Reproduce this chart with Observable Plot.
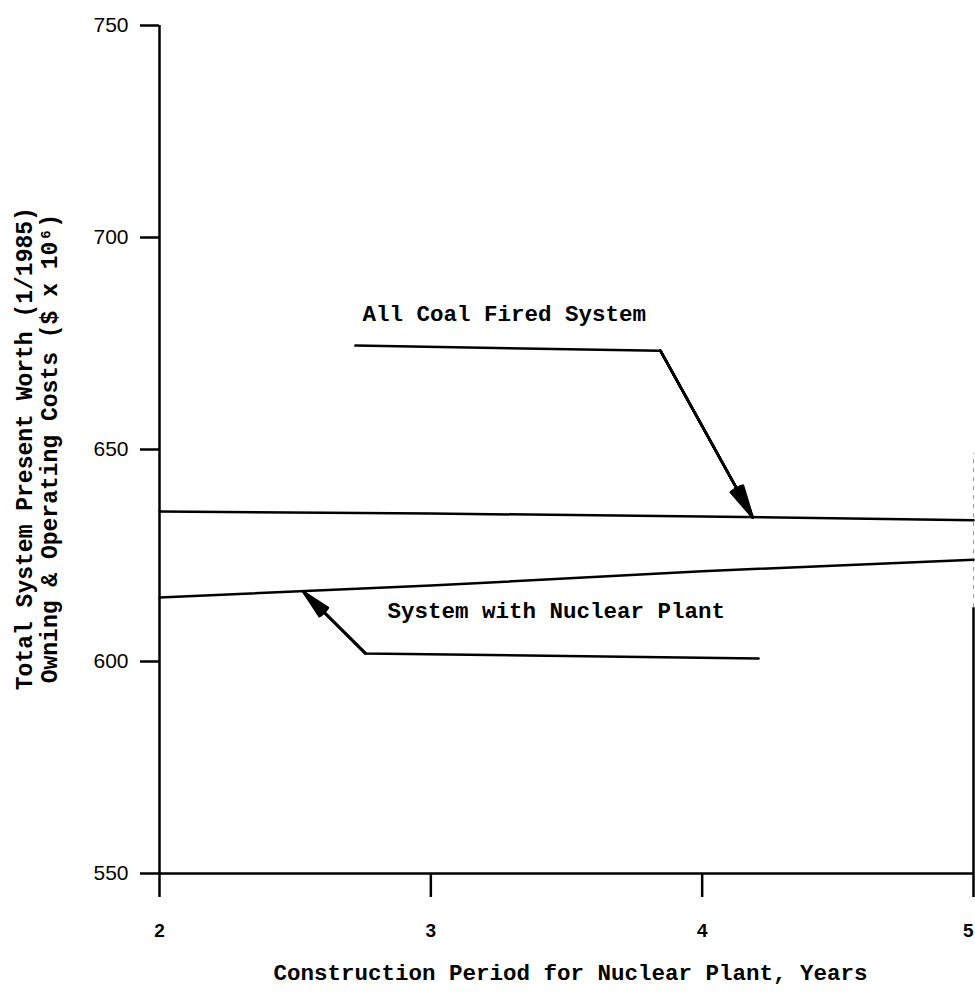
<!DOCTYPE html>
<html><head><meta charset="utf-8">
<script src="https://cdn.jsdelivr.net/npm/d3@7"></script>
<script src="https://cdn.jsdelivr.net/npm/@observablehq/plot@0.6"></script>
<style>body{margin:0;background:#fff}</style>
</head><body><div id="chart"></div>
<script>
// ---- data ----
const years = [2, 3, 4, 5];
const coalCost = [635.4, 634.9, 634.2, 633.3];
const nuclearCost = [615.1, 617.9, 621.3, 624.0];
const yTicks = [550, 600, 650, 700, 750];
const xTicks = [2, 3, 4, 5];
const xTitle = "Construction Period for Nuclear Plant, Years";
const yTitleLines = ["Total System Present Worth (1/1985)", "Owning & Operating Costs ($ x 10\u2076)"];
const seriesLabels = ["All Coal Fired System", "System with Nuclear Plant"];
// annotation leader lines (data units: years, $M)
const coalPointerX = [2.722, 3.846, 4.186];
const coalPointerY = [674.5, 673.3, 634.0];
const nuclearPointerX = [4.208, 2.759, 2.531];
const nuclearPointerY = [600.7, 601.9, 616.4];
const labelX = [2.748, 2.840];
const labelY = [682.1, 612.0];

const table = years.map((x, i) => ({x, coal: coalCost[i], nuclear: nuclearCost[i]}));
const ptr = (xs, ys) => xs.map((x, i) => ({x, y: ys[i]}));
const coalPtr = ptr(coalPointerX, coalPointerY);
const nucPtr = ptr(nuclearPointerX, nuclearPointerY);
const seg = (p) => [{x1: p[p.length - 2].x, y1: p[p.length - 2].y, x2: p[p.length - 1].x, y2: p[p.length - 1].y}];
const labels = seriesLabels.map((t, i) => ({t, x: labelX[i], y: labelY[i]}));

const mono = "'Liberation Mono', 'Courier New', 'DejaVu Sans Mono', monospace";
const sans = "'Liberation Sans', Arial, Helvetica, sans-serif";
const SW = 2.5;

// filled-looking narrow arrowheads: layered chevrons
const heads = (p) => [6, 12, 18, 24].map(a =>
  Plot.arrow(seg(p), {x1: "x1", y1: "y1", x2: "x2", y2: "y2", strokeWidth: 2.5, headLength: 20, headAngle: a}));

const chart = Plot.plot({
  width: 975,
  height: 994,
  marginLeft: 159,
  marginRight: 2,
  marginTop: 25,
  marginBottom: 121,
  style: {background: "#fff", color: "#000"},
  x: {domain: [2, 5]},
  y: {domain: [550, 750]},
  marks: [
    // frame
    Plot.ruleY([550], {x1: 2, x2: 5, strokeWidth: SW}),
    Plot.ruleX([2], {y1: 550, y2: 750, strokeWidth: SW}),
    Plot.ruleX([5], {y1: 550, y2: 612.7, strokeWidth: SW}),
    Plot.ruleX([5], {y1: 612.7, y2: 649, stroke: "#999", strokeWidth: 1, strokeDasharray: "4,5"}),
    // axes (ticks only)
    Plot.axisY({ticks: yTicks, tickSize: 19, strokeWidth: SW, text: null, label: null}),
    Plot.axisX({ticks: xTicks, tickSize: 24, strokeWidth: SW, text: null, label: null}),
    // tick labels
    Plot.text(yTicks, {x: 2, y: d => d, text: d => String(d), textAnchor: "end", dx: -31, lineAnchor: "middle", fontSize: 21, fontFamily: sans}),
    Plot.text(xTicks.slice(0, 3), {x: d => d, frameAnchor: "bottom", dy: 57, text: d => String(d), textAnchor: "middle", lineAnchor: "middle", fontSize: 19, fontWeight: "bold", fontFamily: sans}),
    Plot.text(xTicks.slice(3), {x: d => d, frameAnchor: "bottom", dy: 57, text: d => String(d), textAnchor: "end", lineAnchor: "middle", fontSize: 19, fontWeight: "bold", fontFamily: sans}),
    // titles
    Plot.text([xTitle], {x: 3.515, frameAnchor: "bottom", dy: 99, text: d => d, textAnchor: "middle", lineAnchor: "middle", fontSize: 22.5, fontWeight: "bold", fontFamily: mono}),
    Plot.text([yTitleLines[0]], {y: 650.2, frameAnchor: "left", dx: -135, rotate: -90, text: d => d, textAnchor: "middle", lineAnchor: "middle", fontSize: 23, fontFamily: mono, fontWeight: "bold"}),
    Plot.text([yTitleLines[1]], {y: 650.2, frameAnchor: "left", dx: -110, rotate: -90, text: d => d, textAnchor: "middle", lineAnchor: "middle", fontSize: 23, fontFamily: mono, fontWeight: "bold"}),
    // data
    Plot.line(table, {x: "x", y: "coal", strokeWidth: SW}),
    Plot.line(table, {x: "x", y: "nuclear", strokeWidth: SW}),
    // annotations
    Plot.line(coalPtr, {x: "x", y: "y", strokeWidth: SW}),
    ...heads(coalPtr),
    Plot.line(nucPtr, {x: "x", y: "y", strokeWidth: SW}),
    ...heads(nucPtr),
    Plot.text(labels, {x: "x", y: "y", text: "t", textAnchor: "start", lineAnchor: "middle", fontSize: 22.5, fontWeight: "bold", fontFamily: mono})
  ]
});
document.getElementById("chart").appendChild(chart);
</script>
</body></html>
